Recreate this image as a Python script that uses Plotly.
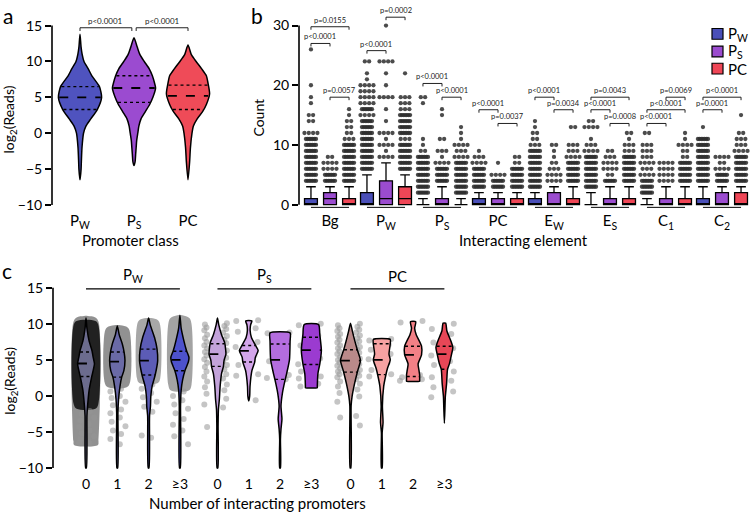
import numpy as np
import plotly.graph_objects as go

W, H = 750, 517
FONT = "Lato"

# ================= Panel a data =================
a_labels = ["P<sub>W</sub>", "P<sub>S</sub>", "PC"]
a_colors = ["#4f53bf", "#9b4bd0", "#ef4b58"]
a_pw_y = [-6.5, -5, -4, -2, 0, 1, 2, 3.3, 5, 6.5, 8, 9, 10, 11, 12, 13.8]
a_pw_w = [0, 0.02, 0.025, 0.037, 0.065, 0.11, 0.2, 0.32, 0.40, 0.36, 0.22, 0.15, 0.074, 0.04, 0.02, 0]
a_ps_y = [-4.5, -4, -3, -2, -1, 0, 1, 2, 3, 4, 5, 6.3, 7, 8, 9, 10, 11, 12, 13.3]
a_ps_w = [0, 0.02, 0.03, 0.04, 0.05, 0.07, 0.09, 0.13, 0.21, 0.29, 0.35, 0.40, 0.38, 0.34, 0.28, 0.19, 0.108, 0.06, 0]
a_pc_y = [-6.5, -4, -2, 0, 1, 2, 3, 4, 5.5, 7, 8, 9, 10, 11, 12.3]
a_pc_w = [0, 0.03, 0.045, 0.074, 0.1, 0.17, 0.27, 0.34, 0.40, 0.37, 0.34, 0.25, 0.15, 0.06, 0]
a_quartiles = [[3.3, 5.0, 6.5], [4.3, 6.3, 8.0], [3.3, 5.2, 6.7]]
a_brackets = [[0, 0.96, 14.7, "p<0.0001"], [1.04, 2, 14.7, "p<0.0001"]]
a_yticks = [-10, -5, 0, 5, 10, 15]

# ================= Panel b data =================
b_groups = ["Bg", "P<sub>W</sub>", "P<sub>S</sub>", "PC", "E<sub>W</sub>", "E<sub>S</sub>", "C<sub>1</sub>", "C<sub>2</sub>"]
b_series = ["P<sub>W</sub>", "P<sub>S</sub>", "PC"]
b_colors = ["#4a4fb8", "#9b4ccf", "#ef4656"]
b_q1 = [[0] * 8, [0] * 8, [0] * 8]
b_median = [[0, 0, 0, 0, 0, 0, 0, 0],
            [1, 1, 0, 0, 0, 0, 0, 0],
            [0, 1, 0, 0, 0, 0, 0, 0]]
b_q3 = [[1, 2, 0, 1, 1, 0, 0, 1],
        [2, 4, 1, 1, 2, 1, 1, 2],
        [1, 3, 0, 1, 1, 1, 1, 2]]
b_upper = [[3, 5, 1, 2, 2, 2, 1, 3],
           [3, 7, 3, 2, 3, 3, 3, 3],
           [3, 5, 1, 2, 3, 3, 3, 3]]
# outlier rows: (count value, number of dots in row; 7 = dense row)
b_out_pw = [
    [(26, 1), (20, 1), (18, 1), (17, 1), (15, 2), (14, 2), (12, 4), (11, 7), (10, 7), (9, 7), (8, 7), (7, 7), (6, 7), (5, 7), (4, 7)],
    [(24, 2), (22, 1), (21, 1), (20, 4), (19, 4), (18, 4), (17, 4), (16, 7), (15, 4), (14, 7), (13, 7), (12, 7), (11, 7), (10, 7), (9, 7), (8, 7), (7, 7), (6, 7)],
    [(18, 2), (17, 1), (11, 1), (10, 1), (9, 2), (8, 7), (7, 7), (6, 7), (5, 7), (4, 7), (3, 7), (2, 7)],
    [(9, 1), (8, 3), (7, 4), (6, 7), (5, 7), (4, 7), (3, 7)],
    [(14, 1), (13, 1), (12, 2), (11, 2), (10, 3), (9, 7), (8, 7), (7, 7), (6, 7), (5, 7), (4, 7), (3, 7)],
    [(14, 2), (13, 4), (11, 1), (10, 3), (9, 4), (8, 7), (7, 7), (6, 7), (5, 7), (4, 7), (3, 7)],
    [(12, 2), (10, 3), (9, 3), (8, 3), (7, 4), (6, 3), (5, 4), (4, 7), (3, 7), (2, 7)],
    [(13, 1), (11, 7), (10, 7), (9, 7), (8, 7), (7, 7), (6, 7), (5, 7), (4, 7)],
]
b_out_ps = [
    [(8, 2), (7, 4), (6, 4), (5, 7), (4, 7)],
    [(30, 1), (24, 4), (22, 1), (20, 1), (18, 4), (16, 1), (14, 1), (12, 4), (11, 1), (10, 4), (9, 1), (8, 4)],
    [(16, 1), (15, 1), (11, 2), (9, 3), (8, 1), (7, 4), (6, 7), (5, 7), (4, 7)],
    [(7, 1), (5, 4), (4, 7), (3, 7)],
    [(10, 2), (9, 1), (8, 1), (7, 2), (6, 3), (5, 4), (4, 4)],
    [(9, 2), (8, 3), (7, 4), (6, 4), (5, 2), (4, 7)],
    [(7, 4), (6, 4), (5, 4), (4, 4)],
    [(8, 4), (7, 2), (6, 4), (5, 7), (4, 7)],
]
b_out_pc = [
    [(16, 1), (15, 1), (14, 2), (13, 2), (12, 2), (11, 3), (10, 7), (9, 7), (8, 7), (7, 7), (6, 7), (5, 7), (4, 7)],
    [(22, 1), (18, 3), (17, 3), (16, 3), (15, 7), (14, 7), (13, 7), (12, 7), (11, 3), (10, 7), (9, 7), (8, 7), (7, 7), (6, 7)],
    [(13, 1), (12, 1), (11, 1), (10, 4), (9, 3), (8, 4), (7, 7), (6, 7), (5, 7), (4, 7), (3, 7), (2, 7)],
    [(8, 2), (7, 2), (6, 7), (5, 7), (4, 7), (3, 7)],
    [(13, 2), (10, 3), (9, 3), (8, 4), (7, 7), (6, 7), (5, 7), (4, 7)],
    [(12, 2), (11, 1), (10, 3), (9, 3), (8, 7), (7, 7), (6, 7), (5, 7), (4, 7)],
    [(12, 1), (11, 1), (10, 4), (9, 2), (8, 2), (7, 7), (6, 7), (5, 7), (4, 7)],
    [(15, 1), (12, 2), (11, 3), (10, 3), (9, 4), (8, 7), (7, 7), (6, 7), (5, 7), (4, 7)],
]
# brackets: group, series from, series to, height, label
b_brackets = [
    [0, 0, 2, 29.8, "p=0.0155"], [0, 0, 1, 27.0, "p<0.0001"], [0, 1, 2, 18.0, "p=0.0057"],
    [1, 1, 2, 31.4, "p=0.0002"], [1, 0, 1, 25.8, "p<0.0001"],
    [2, 0, 1, 20.3, "p<0.0001"], [2, 1, 2, 18.0, "p<0.0001"],
    [3, 0, 1, 15.9, "p<0.0001"], [3, 1, 2, 13.6, "p=0.0037"],
    [4, 0, 1, 18.0, "p<0.0001"], [4, 1, 2, 15.9, "p=0.0034"],
    [5, 0, 2, 18.0, "p=0.0043"], [5, 0, 1, 15.9, "p<0.0001"], [5, 1, 2, 13.6, "p=0.0008"],
    [6, 1, 2, 18.0, "p=0.0069"], [6, 0, 2, 15.9, "p<0.0001"], [6, 0, 1, 13.6, "p<0.0001"],
    [7, 0, 2, 18.0, "p<0.0001"], [7, 0, 1, 15.9, "p=0.0001"],
]
b_yticks = [0, 10, 20, 30]

# ================= Panel c data =================
c_ticks = ["0", "1", "2", "≥3"] * 3
c_groups = ["P<sub>W</sub>", "P<sub>S</sub>", "PC"]
c_pos = [0, 1, 2, 3, 4.2, 5.2, 6.2, 7.2, 8.45, 9.45, 10.45, 11.45]
c_colors = ["#6c6c8e", "#6a6aa6", "#5c5cb6", "#4d52cc",
            "#c3a3da", "#d3a5ea", "#b46ddf", "#9b3bd0",
            "#b98a8a", "#f6a2a2", "#f28086", "#e84757"]
c_vy = [
    [-10, -2.8, -1.4, 0.8, 2.6, 4.45, 5.35, 6.3, 7.6, 9.4, 10.8],
    [-10, -2.35, -0.5, 1.3, 2.6, 3.5, 4.9, 6.0, 7.2, 8.5, 9.7],
    [-10, -2.8, -1.4, -0.1, 1.3, 2.9, 4.9, 6.5, 8.1, 9.9, 10.8],
    [-10, -1.4, 0.8, 2.2, 3.5, 4.7, 5.35, 6.3, 7.6, 9.4, 11.2],
    [-10, -4.1, -1.9, -0.5, 1.3, 3.1, 4.1, 4.9, 5.8, 6.5, 7.4, 8.5, 9.9, 10.8],
    [-0.7, 0, 1.3, 3.5, 4.7, 5.35, 6.3, 6.9, 8.1, 9.0, 9.9, 10.4],
    [-10, -6, -4.6, -3.2, -1.4, 0.4, 2.2, 3.1, 5.0, 7.6, 8.75],
    [1.15, 1.3, 3.1, 4.45, 6.3, 8.5, 9.9],
    [-10, -1.4, -0.1, 1.7, 3.5, 4.9, 6.5, 7.6, 9.0, 10.1],
    [-10, -5.1, -3.7, -1.4, 1.3, 2.9, 3.8, 5.0, 5.8, 7.2, 7.85],
    [2.05, 2.2, 2.9, 3.5, 4.45, 5.7, 6.9, 8.5, 9.4, 10.3],
    [-3.8, -1.4, -0.1, 1.7, 3.7, 4.45, 5.8, 6.7, 7.6, 9.0, 10.1],
]
c_vw = [
    [0.012, 0.03, 0.05, 0.1, 0.18, 0.27, 0.23, 0.19, 0.1, 0.03, 0],
    [0.012, 0.02, 0.04, 0.085, 0.14, 0.21, 0.245, 0.22, 0.16, 0.06, 0],
    [0.012, 0.03, 0.06, 0.07, 0.11, 0.21, 0.29, 0.27, 0.19, 0.05, 0],
    [0.012, 0.02, 0.04, 0.085, 0.16, 0.27, 0.29, 0.21, 0.13, 0.04, 0],
    [0.012, 0.02, 0.03, 0.06, 0.085, 0.13, 0.19, 0.21, 0.27, 0.26, 0.23, 0.13, 0.04, 0],
    [0, 0.03, 0.04, 0.1, 0.19, 0.21, 0.3, 0.23, 0.085, 0.045, 0.06, 0.1],
    [0.012, 0.012, 0.03, 0.06, 0.03, 0.075, 0.16, 0.21, 0.3, 0.32, 0.32],
    [0.19, 0.19, 0.21, 0.27, 0.32, 0.27, 0.23],
    [0.012, 0.02, 0.05, 0.13, 0.23, 0.32, 0.21, 0.14, 0.06, 0],
    [0.012, 0.012, 0.04, 0.02, 0.06, 0.13, 0.18, 0.27, 0.23, 0.27, 0.27],
    [0.21, 0.21, 0.21, 0.19, 0.16, 0.27, 0.27, 0.1, 0.05, 0.085],
    [0, 0.02, 0.03, 0.07, 0.1, 0.16, 0.23, 0.27, 0.21, 0.08, 0.04],
]
c_quartiles = [
    [2.7, 4.5, 6.1], [2.6, 4.75, 6.1], [2.9, 4.9, 6.5], [3.5, 5.0, 6.2],
    [4.1, 5.8, 7.25], [4.7, 6.25, 7.0], [2.3, 5.0, 7.2], [4.35, 6.35, 8.15],
    [3.3, 4.9, 6.4], [2.95, 5.0, 7.25], [2.7, 5.7, 6.9], [3.7, 5.8, 6.9],
]
# dense point swarms behind the P_W violins (extent profiles of the swarm)
c_cloud_y = [
    [-6.8, -6.3, 10.3, 10.9, 11.1],
    [1.2, 1.8, 8.9, 9.5, 9.8],
    [1.8, 2.4, 9.8, 10.5, 10.8],
    [0.8, 1.5, 10.0, 10.8, 11.2],
]
c_cloud_w = [
    [0.38, 0.40, 0.40, 0.30, 0.06],
    [0.30, 0.40, 0.40, 0.33, 0.10],
    [0.30, 0.37, 0.37, 0.30, 0.08],
    [0.30, 0.37, 0.37, 0.30, 0.08],
]
c_cloud_alpha = [0.5, 0.5, 0.4, 0.42]
c_core_y = [-1.8, -1.2, 9.9, 10.4]
c_core_w = [0.30, 0.39, 0.39, 0.30]
# individual points (log2 reads)
c_dots = [
    [-6.6, -6.5, -6.4, -6.0, -5.6, -5.2, -4.8, -4.3, -3.9, -3.4, -3.0, -2.5, -2.1],
    [1.0, 0.6, 0.0, -0.3, -0.8, -1.3, -1.9, -2.4, -3.0, -3.6, -4.2, -4.8, -5.3, -6.0, -6.7],
    [1.6, 1.0, 0.4, -0.2, -0.8, -1.5, -2.2, -5.5, -5.8],
    [0.6, 0.0, -0.6, -1.2, -1.8, -2.4, -3.2, -4.0, -4.8, -5.6, -6.7],
    [10.1, 9.9, 9.7, 9.5, 9.3, 9.1, 8.8, 8.5, 8.3, 8.0, 7.8, 7.5, 7.3, 7.0, 6.8, 6.6, 6.3, 6.1, 5.9, 5.6,
     5.3, 5.1, 4.8, 4.6, 4.3, 4.0, 3.7, 3.4, 3.0, 2.7, 2.4, 2.0, 1.6, 1.2, 0.8, 0.3, -0.4, -1.2, -1.6, -4.3],
    [10.5, 10.4, 9.4, 8.9, 7.5, 6.8, 5.6, 4.3, 3.0, 2.8, -0.6],
    [8.8, 8.7, 7.3, 4.8, 2.9, 2.5, 2.3],
    [10.0, 9.8, 8.4, 7.0, 5.2, 4.4, 4.1, 3.4, 2.7, 2.4, 1.7, 1.3],
    [10.0, 9.8, 9.6, 9.4, 9.2, 9.0, 8.8, 8.6, 8.4, 8.2, 8.0, 7.8, 7.6, 7.4, 7.2, 7.0, 6.8, 6.6, 6.4, 6.2,
     6.0, 5.8, 5.6, 5.4, 5.2, 5.0, 4.8, 4.6, 4.4, 4.2, 4.0, 3.8, 3.6, 3.4, 3.2, 3.0, 2.8, 2.6, 2.3, 2.0,
     1.7, 1.3, 0.9, 0.4, -0.1, -0.8, -2.8, -3.0, -4.1],
    [7.9, 7.7, 7.1, 6.4, 5.8, 5.1, 4.6, 3.6, 3.0, 2.7],
    [10.4, 10.2, 2.9, 2.6, 2.3, 2.1],
    [10.0, 9.3, 8.6, 7.4, 6.6, 5.6, 4.8, 4.3, 3.4, 2.6, 2.1, 1.2, 0.6, -0.2],
]
c_yticks = [-10, -5, 0, 5, 10, 15]

# ================= geometry helpers =================
def make_axes(x0, xppu, xpx, y0, yppu, yrng):
    xr = [(xpx[0] - x0) / xppu, (xpx[1] - x0) / xppu]
    xdom = [xpx[0] / W, xpx[1] / W]
    ydom = [1 - (y0 - yrng[0] * yppu) / H, 1 - (y0 - yrng[1] * yppu) / H]
    return xr, xdom, list(yrng), ydom

def ypaper(v, y0, yppu):
    return 1 - (y0 - v * yppu) / H

A = dict(x0=80, xppu=54, xpx=(52, 236), y0=131, yppu=7.33, yrng=(-10.4, 16.2))
B = dict(x0=330, xppu=56, xpx=(299, 750), y0=204, yppu=6.1, yrng=(-0.8, 32.5))
C = dict(x0=86, xppu=31.3, xpx=(53, 462), y0=399.4, yppu=7.36, yrng=(-10.3, 15.6))

def outline(pos, ys, ws):
    ys = np.asarray(ys, float); ws = np.asarray(ws, float)
    right = list(zip(pos + ws, ys))
    left = list(zip(pos - ws, ys))[::-1]
    if ws[-1] == 0:
        left = left[1:]
    pts = right + left
    if ws[0] > 0:
        pts.append(right[0])
    return [p[0] for p in pts], [p[1] for p in pts]

fig = go.Figure()

def add_violin(pos, ys, ws, color, quart, xa, ya, lw=1.5):
    x, y = outline(pos, ys, ws)
    fig.add_trace(go.Scatter(x=x, y=y, mode="lines", fill="toself", fillcolor=color,
                             line=dict(color="black", width=lw, shape="spline", smoothing=0.6),
                             xaxis=xa, yaxis=ya, hoverinfo="skip", showlegend=False))
    for q, dash, wd in [(quart[0], "dot", 1.4), (quart[1], "dash", 1.8), (quart[2], "dot", 1.4)]:
        hw = float(np.interp(q, ys, ws)) * 0.96
        fig.add_trace(go.Scatter(x=[pos - hw, pos + hw], y=[q, q], mode="lines",
                                 line=dict(color="black", width=wd, dash=dash),
                                 xaxis=xa, yaxis=ya, hoverinfo="skip", showlegend=False))

# ================= Panel a =================
a_profiles = [(a_pw_y, a_pw_w), (a_ps_y, a_ps_w), (a_pc_y, a_pc_w)]
for i, (ys, ws) in enumerate(a_profiles):
    add_violin(i, ys, ws, a_colors[i], a_quartiles[i], "x", "y")

shapes = []
annotations = []

def bracket(x1, x2, yv, text, xref, yref, tick, fsize=8):
    shapes.append(dict(type="path", xref=xref, yref=yref,
                       path=f"M {x1},{yv - tick} L {x1},{yv} L {x2},{yv} L {x2},{yv - tick}",
                       line=dict(color="#222", width=1)))
    annotations.append(dict(x=(x1 + x2) / 2, y=yv, xref=xref, yref=yref, text=text, showarrow=False,
                            yanchor="bottom", yshift=0, font=dict(size=fsize, color="#222", family=FONT)))

for x1, x2, yv, t in a_brackets:
    bracket(x1, x2, yv, t, "x", "y", 0.45, 8)

# ================= Panel b =================
b_off = [-0.34, 0.0, 0.34]
b_outliers = [b_out_pw, b_out_ps, b_out_pc]
dx, dy = [], []
for s in range(3):
    for g in range(8):
        c = g + b_off[s]
        for v, n in b_outliers[s][g]:
            sp = 0.03 if n >= 7 else 0.077
            for k in range(n):
                dx.append(c + (k - (n - 1) / 2) * sp)
                dy.append(v)
fig.add_trace(go.Scatter(x=dx, y=dy, mode="markers", xaxis="x2", yaxis="y2",
                         marker=dict(size=4.3, color="rgba(45,45,45,0.85)", line=dict(width=0)),
                         hoverinfo="skip", showlegend=False))
for s in range(3):
    fig.add_trace(go.Box(x=[g + b_off[s] for g in range(8)], q1=b_q1[s], median=b_median[s], q3=b_q3[s],
                         lowerfence=[0] * 8, upperfence=b_upper[s], width=0.23, whiskerwidth=0.75,
                         fillcolor=b_colors[s], line=dict(color="black", width=1.3),
                         boxpoints=False, xaxis="x2", yaxis="y2", hoverinfo="skip", showlegend=False))
for g in range(8):
    shapes.append(dict(type="line", xref="x2", yref="y2", x0=g - 0.34, x1=g + 0.34, y0=-0.45, y1=-0.45,
                       line=dict(color="black", width=1)))
for g, s1, s2, yv, t in b_brackets:
    bracket(g + b_off[s1], g + b_off[s2], yv, t, "x2", "y2", 0.5, 7.5)

# legend
leg_y = [29.5, 47.5, 65]
leg_lab = ["P<sub>W</sub>", "P<sub>S</sub>", "PC"]
for i in range(3):
    shapes.append(dict(type="rect", xref="paper", yref="paper", x0=712 / W, x1=723 / W,
                       y0=1 - (leg_y[i] + 5.5) / H, y1=1 - (leg_y[i] - 5.5) / H,
                       fillcolor=b_colors[i], line=dict(color="black", width=1.2)))
    annotations.append(dict(x=726 / W, y=1 - leg_y[i] / H, xref="paper", yref="paper", text=leg_lab[i],
                            showarrow=False, xanchor="left", yanchor="middle",
                            font=dict(size=15, color="black", family=FONT)))

# ================= Panel c =================
for i in range(4):
    x, y = outline(c_pos[i], c_cloud_y[i], c_cloud_w[i])
    fig.add_trace(go.Scatter(x=x, y=y, mode="lines", fill="toself",
                             fillcolor=f"rgba(35,35,35,{c_cloud_alpha[i]})",
                             line=dict(width=0, shape="spline"), xaxis="x3", yaxis="y3",
                             hoverinfo="skip", showlegend=False))
x, y = outline(c_pos[0], c_core_y, c_core_w)
fig.add_trace(go.Scatter(x=x, y=y, mode="lines", fill="toself", fillcolor="rgba(5,5,5,0.8)",
                         line=dict(width=0, shape="spline"), xaxis="x3", yaxis="y3",
                         hoverinfo="skip", showlegend=False))
mags = [0.3, 0.4, 0.22, 0.35, 0.28, 0.42, 0.18, 0.33]
tail_mags = [0.12, 0.22, 0.08, 0.18, 0.26, 0.14]
px_, py_ = [], []
for i, vals in enumerate(c_dots):
    pat = tail_mags if i < 4 else mags
    for k, v in enumerate(vals):
        side = 1 if k % 2 == 0 else -1
        px_.append(c_pos[i] + side * pat[k % len(pat)])
        py_.append(v)
fig.add_trace(go.Scatter(x=px_, y=py_, mode="markers", xaxis="x3", yaxis="y3",
                         marker=dict(size=6, color="rgba(150,150,150,0.55)", line=dict(width=0)),
                         hoverinfo="skip", showlegend=False))
for i in range(12):
    add_violin(c_pos[i], c_vy[i], c_vw[i], c_colors[i], c_quartiles[i], "x3", "y3")
c_spans = [(0, 3), (4, 7), (8, 11)]
for gi, (i0, i1) in enumerate(c_spans):
    shapes.append(dict(type="line", xref="x3", yref="y3", x0=c_pos[i0], x1=c_pos[i1], y0=14.85, y1=14.85,
                       line=dict(color="black", width=1.3)))
    annotations.append(dict(x=(c_pos[i0] + c_pos[i1]) / 2, y=14.85, xref="x3", yref="y3", text=c_groups[gi],
                            showarrow=False, yanchor="bottom", yshift=2,
                            font=dict(size=15, color="black", family=FONT)))

# ================= spines =================
for P, lo, hi in [(A, -10, 15), (B, 0, 30), (C, -10, 15)]:
    xp = P["xpx"][0] / W
    shapes.append(dict(type="line", xref="paper", yref="paper", x0=xp, x1=xp,
                       y0=ypaper(lo, P["y0"], P["yppu"]), y1=ypaper(hi, P["y0"], P["yppu"]),
                       line=dict(color="black", width=1.6)))

# ================= text =================
def txt(x, y, text, size=14, angle=0, xanchor="center"):
    annotations.append(dict(x=x / W, y=1 - y / H, xref="paper", yref="paper", text=text,
                            showarrow=False, textangle=angle, xanchor=xanchor, yanchor="middle",
                            font=dict(size=size, color="black", family=FONT)))

txt(1, 11, "a", 21, xanchor="left")
txt(249, 11, "b", 21, xanchor="left")
txt(0, 271, "c", 21, xanchor="left")
txt(10, 117, "log<sub>2</sub>(Reads)", 14, angle=-90)
txt(11, 384, "log<sub>2</sub>(Reads)", 14, angle=-90)
txt(259, 115, "Count", 14, angle=-90)
txt(130, 240, "Promoter class", 15)
txt(523, 240, "Interacting element", 15)
txt(257, 509, "Number of interacting promoters", 15)

# ================= axes =================
xa, xda, ya, yda = make_axes(**A)
xb, xdb, yb, ydb = make_axes(**B)
xc, xdc, yc, ydc = make_axes(**C)

def xaxis(rng, dom, anchor, tv, tt, size, standoff):
    return dict(domain=dom, range=rng, anchor=anchor, showline=False, showgrid=False, zeroline=False,
                ticks="", tickvals=tv, ticktext=tt, tickfont=dict(size=size, color="black", family=FONT),
                ticklabelstandoff=standoff, fixedrange=True)

def yaxis(rng, dom, anchor, tv):
    return dict(domain=dom, range=rng, anchor=anchor, showline=False, showgrid=False, zeroline=False,
                ticks="outside", ticklen=6, tickwidth=1.5, tickcolor="black", tickvals=tv,
                tickfont=dict(size=14, color="black", family=FONT), fixedrange=True)

fig.update_layout(
    width=W, height=H, margin=dict(l=0, r=0, t=0, b=0),
    paper_bgcolor="white", plot_bgcolor="white", showlegend=False, boxmode="overlay",
    font=dict(family=FONT, color="black"),
    xaxis=xaxis(xa, xda, "y", [0, 1, 2], a_labels, 15, 2),
    yaxis=yaxis(ya, yda, "x", a_yticks),
    xaxis2=xaxis(xb, xdb, "y2", list(range(8)), b_groups, 15, 1),
    yaxis2=yaxis(yb, ydb, "x2", b_yticks),
    xaxis3=xaxis(xc, xdc, "y3", c_pos, c_ticks, 14, 4),
    yaxis3=yaxis(yc, ydc, "x3", c_yticks),
    shapes=shapes, annotations=annotations,
)

fig.write_html("out.html", config={"displayModeBar": False},
               post_script="document.body.style.margin='0px';document.body.style.overflow='hidden';")
